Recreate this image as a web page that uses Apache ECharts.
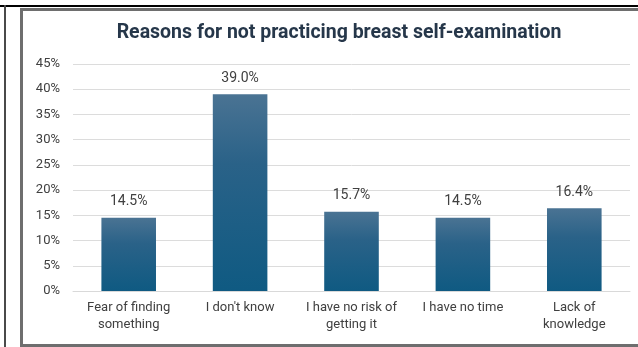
<!DOCTYPE html>
<html>
<head>
<meta charset="utf-8">
<script src="https://cdn.jsdelivr.net/npm/echarts@6/dist/echarts.min.js"></script>
<style>
  html, body { margin: 0; padding: 0; background: #fff; }
  #chart { width: 638px; height: 347px; }
</style>
</head>
<body>
<div id="chart"></div>
<script>
// Survey results: reasons for not practicing breast self-examination
const categories = [
  'Fear of finding\nsomething',
  "I don't know",
  'I have no risk of\ngetting it',
  'I have no time',
  'Lack of\nknowledge'
];
const percentages = [14.5, 39.0, 15.7, 14.5, 16.4];
const yTicks = [0, 5, 10, 15, 20, 25, 30, 35, 40, 45];

const chart = echarts.init(document.getElementById('chart'), null, { renderer: 'canvas' });

const textColor = '#404040';
const fontFamily = 'Roboto, "Liberation Sans", sans-serif';

chart.setOption({
  backgroundColor: '#ffffff',
  animation: false,
  title: {
    text: 'Reasons for not practicing breast self-examination',
    left: 334,
    textAlign: 'center',
    top: 18,
    textStyle: {
      color: '#26374a',
      fontSize: 19.5,
      fontWeight: 'bold',
      fontFamily: fontFamily
    }
  },
  grid: {
    left: 73,
    right: 8,
    top: 64,
    bottom: 56,
    containLabel: false
  },
  xAxis: {
    type: 'category',
    data: categories,
    axisLine: { show: true, lineStyle: { color: '#d9d9d9', width: 1 } },
    axisTick: { show: false },
    axisLabel: {
      interval: 0,
      hideOverlap: false,
      color: textColor,
      fontSize: 13,
      fontFamily: fontFamily,
      lineHeight: 17,
      margin: 8
    }
  },
  yAxis: {
    type: 'value',
    min: yTicks[0],
    max: yTicks[yTicks.length - 1],
    interval: 5,
    axisLine: { show: false },
    axisTick: { show: false },
    splitLine: { lineStyle: { color: '#dcdcdc', width: 1 } },
    axisLabel: {
      color: textColor,
      fontSize: 13,
      fontFamily: fontFamily,
      margin: 13,
      formatter: v => v + '%'
    }
  },
  series: [{
    type: 'bar',
    data: percentages,
    barWidth: '49%',
    itemStyle: {
      color: new echarts.graphic.LinearGradient(0, 0, 0, 1, [
        { offset: 0, color: '#4a7393' },
        { offset: 0.35, color: '#2a6288' },
        { offset: 1, color: '#0f5a82' }
      ])
    },
    label: {
      show: true,
      position: 'top',
      distance: 9,
      color: textColor,
      fontSize: 14,
      fontFamily: fontFamily,
      formatter: p => p.value.toFixed(1) + '%'
    }
  }],
  graphic: [
    // outer black top rule and left rule
    { type: 'rect', shape: { x: 0, y: 5, width: 638, height: 2 }, style: { fill: '#000' }, silent: true },
    { type: 'rect', shape: { x: 4, y: 5, width: 2, height: 342 }, style: { fill: '#4a4a4a' }, silent: true },
    // inner gray frame
    { type: 'rect', shape: { x: 20, y: 8, width: 618, height: 3 }, style: { fill: '#6e6e6e' }, silent: true },
    { type: 'rect', shape: { x: 20, y: 8, width: 3, height: 339 }, style: { fill: '#6e6e6e' }, silent: true },
    { type: 'rect', shape: { x: 20, y: 344, width: 618, height: 3 }, style: { fill: '#6e6e6e' }, silent: true }
  ]
});
</script>
</body>
</html>
